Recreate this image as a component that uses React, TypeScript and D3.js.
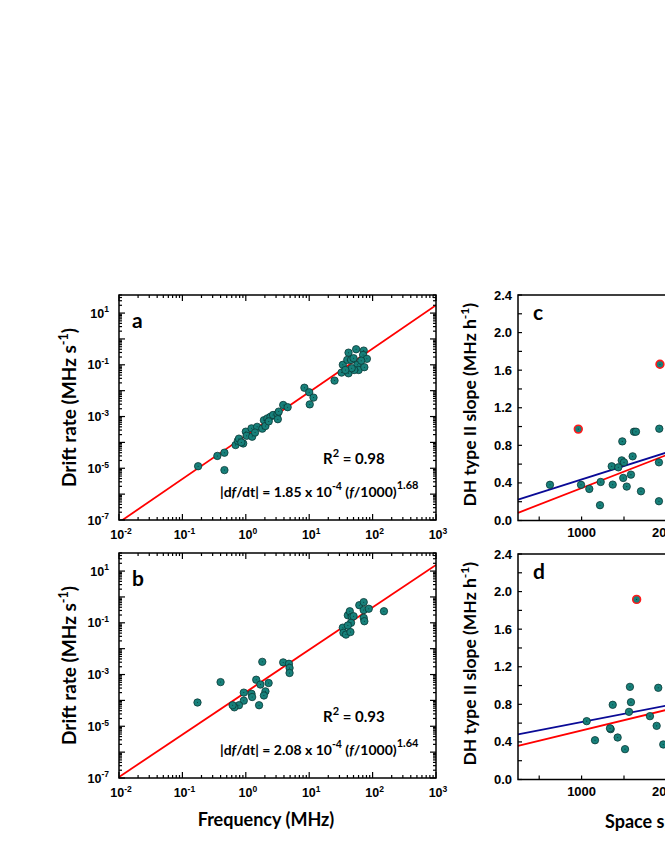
import React from 'react';
import * as d3 from 'd3';

const W = 665;
const H = 860;

// panel a: frequency (MHz) vs drift rate (MHz s^-1)
const freqA = [0.177, 0.356, 0.46, 0.46, 0.69, 0.75, 0.91, 0.78, 1.0, 1.03, 1.26, 1.23, 1.51, 1.82, 1.93, 2.04, 2.19, 2.45, 2.69, 3.16, 3.2, 3.31, 3.89, 4.57, 8.4, 10.2, 10.0, 11.7, 25.1, 32.4, 33.9, 39.8, 41.7, 45.7, 41.7, 55, 50.1, 57.5, 60.3, 72.4, 70.8, 81.3, 74.1, 51.3, 66.1, 46.8, 37.2, 0.85, 1.4, 2.3];
const driftA = [1.2e-5, 3.0e-5, 8.5e-6, 4.0e-5, 7.9e-5, 1.15e-4, 9.1e-5, 1.4e-4, 2.6e-4, 1.8e-4, 1.66e-4, 3.5e-4, 4.0e-4, 3.4e-4, 7.2e-4, 4.3e-4, 8.5e-4, 9.8e-4, 1.15e-3, 1.26e-3, 7.9e-4, 1.55e-3, 2.8e-3, 2.3e-3, 1.3e-2, 2.95e-3, 8.7e-3, 5.4e-3, 2.45e-2, 5.0e-2, 0.1, 0.155, 0.295, 0.155, 0.047, 0.4, 0.18, 0.1, 0.063, 0.355, 0.24, 0.17, 0.081, 0.063, 0.145, 0.074, 0.063, 1.0e-4, 2.4e-4, 6.5e-4];

// panel b
const freqB = [0.173, 0.4, 1.82, 1.46, 1.7, 2.29, 2.04, 1.93, 1.62, 0.93, 0.93, 1.23, 1.26, 0.78, 0.66, 0.62, 3.89, 4.79, 4.9, 4.9, 33.9, 34.7, 38, 44.7, 40.7, 43.7, 46.8, 45.7, 50.1, 61.7, 72.4, 72.4, 72.4, 74.1, 87, 151, 40.7];
const driftB = [8.3e-5, 5.1e-4, 3.1e-3, 6.3e-4, 4.1e-4, 4.7e-4, 2.24e-4, 1.55e-4, 6.5e-5, 2.0e-4, 9.8e-5, 1.8e-4, 1.35e-4, 6.5e-5, 5.4e-5, 6.5e-5, 2.95e-3, 2.6e-3, 1.8e-3, 1.15e-3, 0.065, 0.041, 0.035, 0.044, 0.195, 0.28, 0.17, 0.1, 0.18, 0.48, 0.63, 0.31, 0.155, 0.115, 0.35, 0.28, 0.079];

// power-law fits |df/dt| = coef * (f/1000 kHz)^exp
const fitA = { coef: 1.85e-4, exp: 1.68, r2: '0.98', coefText: '1.85', expText: '1.68' };
const fitB = { coef: 2.08e-4, exp: 1.64, r2: '0.93', coefText: '2.08', expText: '1.64' };

// panel c: space speed (km/s) vs DH type II slope (MHz/h)
const speedC = [627, 993, 1091, 1225, 1217, 1355, 1367, 1433, 1473, 1480, 1500, 1491, 1532, 1582, 1602, 1618, 1641, 1700, 1912, 1916, 1912];
const slopeC = [0.38, 0.38, 0.336, 0.41, 0.163, 0.577, 0.382, 0.566, 0.64, 0.842, 0.619, 0.453, 0.361, 0.488, 0.683, 0.945, 0.945, 0.311, 0.619, 0.977, 0.205];
const outSpeedC = [961, 1924];
const outSlopeC = [0.973, 1.663];

// panel d
const speedD = [1060, 1158, 1343, 1335, 1367, 1425, 1512, 1559, 1570, 1582, 1806, 1885, 1904, 1963];
const slopeD = [0.621, 0.418, 0.536, 0.545, 0.795, 0.447, 0.323, 0.72, 0.986, 0.823, 0.674, 0.571, 0.976, 0.373];
const outSpeedD = [1649];
const outSlopeD = [1.917];

// linear fits: intercept a, slope b
const blueC = { a: 0.151, b: 2.86e-4 };
const redC = { a: -0.006, b: 3.51e-4 };
const blueD = { a: 0.438, b: 1.74e-4 };
const redD = { a: 0.303, b: 2.19e-4 };

const yTicksLin = [0, 0.4, 0.8, 1.2, 1.6, 2.0, 2.4];
const xTicksLin = [1000, 2000, 3000, 4000];

const TICK_FONT = '"Liberation Sans", Arial, sans-serif';
const TITLE_FONT = 'Lato, "Open Sans", sans-serif';
const TEAL = '#17807a';
const TEAL_EDGE = '#0a3936';

function logTicks(lo: number, hi: number, e0: number, e1: number) {
  const out: { v: number; major: boolean; e: number }[] = [];
  for (let e = e0; e <= e1; e++) {
    for (let k = 1; k <= 9; k++) {
      const v = k * Math.pow(10, e);
      if (v >= lo * 0.999 && v <= hi * 1.001) out.push({ v, major: k === 1, e });
    }
  }
  return out;
}

const Sup = ({ base, exp, x, y, anchor, size }: any) => (
  <text x={x} y={y} textAnchor={anchor} fontFamily={TICK_FONT} fontWeight="bold" fontSize={size}>
    {base}
    <tspan fontSize={size * 0.68} dy={-size * 0.42}>{exp}</tspan>
  </text>
);

function LogPanel({ top, letter, freq, drift, fit, showXTitle }: any) {
  const left = 119, right = 436, bottom = top + 225;
  const x = d3.scaleLog().domain([0.01, 1000]).range([left, right]);
  const y = d3.scaleLog().domain([1e-7, 50]).range([bottom, top]);
  const xt = logTicks(0.01, 1000, -2, 3);
  const yt = logTicks(1e-7, 50, -7, 1);
  const line = d3.line<number>().x((d) => x(d)).y((d) => y(fit.coef * Math.pow(d, fit.exp)));
  const clipId = 'clip' + letter;
  return (
    <g>
      <defs>
        <clipPath id={clipId}>
          <rect x={left} y={top} width={right - left} height={bottom - top} />
        </clipPath>
      </defs>
      <path d={line(x.domain()) || ''} stroke="#ff0000" strokeWidth={1.8} fill="none" clipPath={`url(#${clipId})`} />
      {freq.map((f: number, i: number) => (
        <g key={i}>
          <circle cx={x(f)} cy={y(drift[i])} r={3.7} fill={TEAL} stroke={TEAL_EDGE} strokeWidth={0.8} />
          <circle cx={x(f)} cy={y(drift[i])} r={0.5} fill={TEAL_EDGE} />
        </g>
      ))}
      <rect x={left} y={top} width={right - left} height={bottom - top} fill="none" stroke="#000" strokeWidth={1.5} />
      {xt.map((t, i) => {
        const len = t.major ? 6 : 3;
        return (
          <g key={'x' + i}>
            <line x1={x(t.v)} x2={x(t.v)} y1={bottom} y2={bottom - len} stroke="#000" strokeWidth={1.2} />
            <line x1={x(t.v)} x2={x(t.v)} y1={top} y2={top + len} stroke="#000" strokeWidth={1.2} />
          </g>
        );
      })}
      {yt.map((t, i) => {
        const len = t.major ? 6 : 3;
        return (
          <g key={'y' + i}>
            <line x1={left} x2={left + len} y1={y(t.v)} y2={y(t.v)} stroke="#000" strokeWidth={1.2} />
            <line x1={right} x2={right - len} y1={y(t.v)} y2={y(t.v)} stroke="#000" strokeWidth={1.2} />
          </g>
        );
      })}
      {xt.filter((t) => t.major).map((t, i) => (
        <Sup key={'xl' + i} base="10" exp={String(t.e)} x={x(t.v) + 2} y={bottom + 19} anchor="middle" size={12.5} />
      ))}
      {yt.filter((t) => t.major && Math.abs(t.e) % 2 === 1).map((t, i) => (
        <Sup key={'yl' + i} base="10" exp={String(t.e)} x={left - 10} y={y(t.v) + 4.5} anchor="end" size={12.5} />
      ))}
      <text x={left + 13} y={top + 33} fontFamily={TITLE_FONT} fontWeight="bold" fontSize={21}>{letter}</text>
      <text x={323} y={bottom - 56} fontFamily={TITLE_FONT} fontWeight="bold" fontSize={15}>
        R<tspan fontSize={11} dy={-7}>2</tspan>
        <tspan dy={7}> = {fit.r2}</tspan>
      </text>
      <text x={220} y={bottom - 23} fontFamily={TITLE_FONT} fontWeight="bold" fontSize={14}>
        |d<tspan fontStyle="italic">f</tspan>/dt| = {fit.coefText} x 10
        <tspan fontSize={10.5} dy={-7}>-4</tspan>
        <tspan dy={7}> (</tspan>
        <tspan fontStyle="italic">f</tspan>/1000)
        <tspan fontSize={11} dy={-8}>{fit.expText}</tspan>
      </text>
      <text transform={`translate(76,${(top + bottom) / 2}) rotate(-90)`} textAnchor="middle" fontFamily={TITLE_FONT} fontWeight="bold" fontSize={19}>
        Drift rate (MHz s<tspan fontSize={12.5} dy={-8}>-1</tspan>
        <tspan dy={8}>)</tspan>
      </text>
      {showXTitle && (
        <text x={266} y={bottom + 48} textAnchor="middle" fontFamily={TITLE_FONT} fontWeight="bold" fontSize={18}>
          Frequency (MHz)
        </text>
      )}
    </g>
  );
}

function LinPanel({ top, letter, speed, slope, outSpeed, outSlope, blue, red, showXTitle }: any) {
  const left = 518, right = 836, bottom = top + 225.5;
  const x = d3.scaleLinear().domain([250, 4000]).range([left, right]);
  const y = d3.scaleLinear().domain([0, 2.4]).range([bottom, top]);
  const fitLine = (f: any) => d3.line<number>().x((d) => x(d)).y((d) => y(f.a + f.b * d))(x.domain()) || '';
  const yMinor = d3.range(0, 2.41, 0.2);
  const xMinor = d3.range(500, 4001, 500);
  const dot = (sx: number, sy: number, k: string, out: boolean) => (
    <g key={k}>
      <circle cx={x(sx)} cy={y(sy)} r={out ? 3.9 : 3.7} fill={TEAL} stroke={out ? '#ff1a1a' : TEAL_EDGE} strokeWidth={out ? 1.6 : 0.8} />
      <circle cx={x(sx)} cy={y(sy)} r={0.55} fill={TEAL_EDGE} />
    </g>
  );
  return (
    <g>
      <path d={fitLine(blue)} stroke="#0a0a96" strokeWidth={1.8} fill="none" />
      <path d={fitLine(red)} stroke="#ff0000" strokeWidth={1.8} fill="none" />
      {speed.map((s: number, i: number) => dot(s, slope[i], 'p' + i, false))}
      {outSpeed.map((s: number, i: number) => dot(s, outSlope[i], 'o' + i, true))}
      <rect x={left} y={top} width={right - left} height={bottom - top} fill="none" stroke="#000" strokeWidth={1.5} />
      {yMinor.map((v, i) => (
        <line key={'ym' + i} x1={left} x2={left + 4} y1={y(v)} y2={y(v)} stroke="#000" strokeWidth={1.2} />
      ))}
      {xMinor.map((v, i) => (
        <line key={'xm' + i} x1={x(v)} x2={x(v)} y1={bottom} y2={bottom - 4} stroke="#000" strokeWidth={1.2} />
      ))}
      {yTicksLin.map((v, i) => (
        <text key={'yl' + i} x={left - 6} y={y(v) + 4.5} textAnchor="end" fontFamily={TICK_FONT} fontWeight="bold" fontSize={13}>
          {v.toFixed(1)}
        </text>
      ))}
      {xTicksLin.map((v, i) => (
        <text key={'xl' + i} x={x(v)} y={bottom + 16} textAnchor="middle" fontFamily={TICK_FONT} fontWeight="bold" fontSize={13}>
          {v}
        </text>
      ))}
      <text x={left + 15} y={top + 25} fontFamily={TITLE_FONT} fontWeight="bold" fontSize={21}>{letter}</text>
      <text transform={`translate(476,${(top + bottom) / 2 - 3}) rotate(-90)`} textAnchor="middle" fontFamily={TITLE_FONT} fontWeight="bold" fontSize={17.5}>
        DH type II slope (MHz h<tspan fontSize={12} dy={-7}>-1</tspan>
        <tspan dy={7}>)</tspan>
      </text>
      {showXTitle && (
        <text x={605} y={bottom + 48} fontFamily={TITLE_FONT} fontWeight="bold" fontSize={18}>
          Space speed (km s<tspan fontSize={12} dy={-7}>-1</tspan>
          <tspan dy={7}>)</tspan>
        </text>
      )}
    </g>
  );
}

export default function App() {
  return (
    <svg width={W} height={H} style={{ position: 'absolute', left: 0, top: 0, background: '#fff' }}>
      <rect width={W} height={H} fill="#fff" />
      <LogPanel top={295} letter="a" freq={freqA} drift={driftA} fit={fitA} showXTitle={false} />
      <LogPanel top={553} letter="b" freq={freqB} drift={driftB} fit={fitB} showXTitle={true} />
      <LinPanel top={295} letter="c" speed={speedC} slope={slopeC} outSpeed={outSpeedC} outSlope={outSlopeC} blue={blueC} red={redC} showXTitle={false} />
      <LinPanel top={554} letter="d" speed={speedD} slope={slopeD} outSpeed={outSpeedD} outSlope={outSlopeD} blue={blueD} red={redD} showXTitle={true} />
    </svg>
  );
}
